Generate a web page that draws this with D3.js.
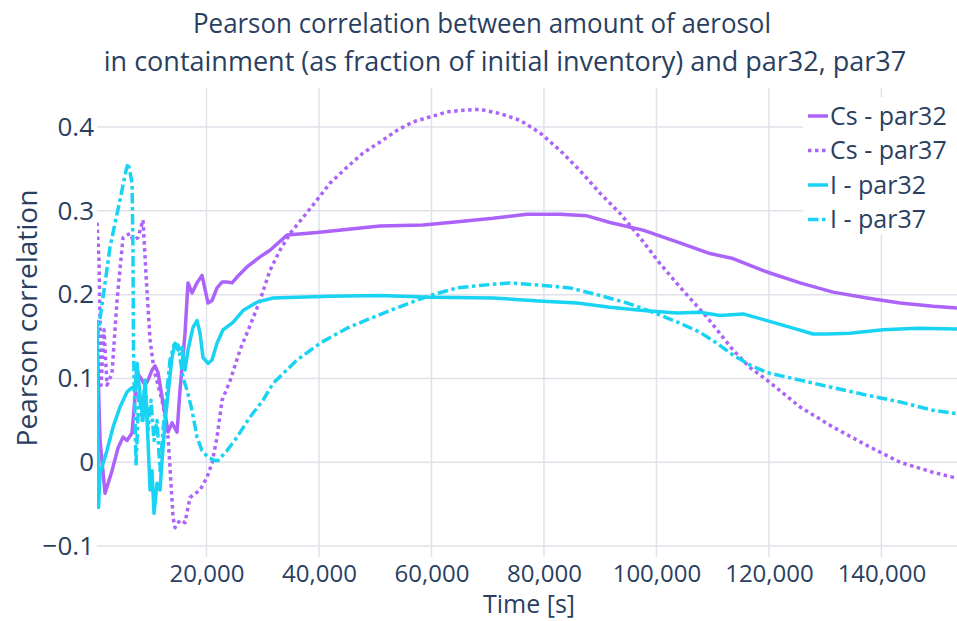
<!DOCTYPE html>
<html>
<head>
<meta charset="utf-8">
<script src="https://cdn.jsdelivr.net/npm/d3@7"></script>
<style>
  body { margin: 0; background: #fff; }
  svg { display: block; font-family: 'Open Sans', sans-serif; }
</style>
</head>
<body>
<svg id="chart" width="957" height="621"></svg>
<script>
// values: [time s, pearson r]
const csPar32 = [
    [530, 0.152], [1070, 0.026], [1960, -0.037], [3200, -0.010], [4270, 0.017], [5160, 0.030],
    [5870, 0.026], [6760, 0.035], [7650, 0.107], [8360, 0.100], [9070, 0.092], [9600, 0.098],
    [10310, 0.110], [10850, 0.115], [11380, 0.107], [12090, 0.078], [12620, 0.058], [13160, 0.036],
    [13870, 0.047], [14760, 0.036], [15290, 0.086], [16180, 0.154], [16710, 0.214], [17420, 0.202],
    [18310, 0.214], [19200, 0.223], [20270, 0.190], [20980, 0.193], [21870, 0.208], [22760, 0.215],
    [23650, 0.215], [24540, 0.214], [25430, 0.221], [27200, 0.233], [29510, 0.245], [31290, 0.253],
    [34320, 0.271], [39650, 0.274], [50850, 0.282], [58500, 0.283], [63300, 0.286], [70940, 0.291],
    [76990, 0.296], [82850, 0.296], [87650, 0.294], [91750, 0.286], [97610, 0.277], [103660, 0.263],
    [109530, 0.249], [113610, 0.243], [119660, 0.227], [125530, 0.214], [131390, 0.203],
    [137440, 0.196], [143310, 0.190], [149170, 0.186], [153440, 0.184]
]

const csPar37 = [
    [530, 0.286], [890, 0.241], [1250, 0.092], [1780, 0.158], [2310, 0.092], [3200, 0.106],
    [4090, 0.193], [5160, 0.268], [6400, 0.273], [6930, 0.265], [7820, 0.268], [8710, 0.289],
    [9250, 0.223], [9960, 0.146], [10670, 0.110], [11380, 0.092], [12090, 0.074], [12620, 0.056],
    [13160, 0.030], [13510, -0.006], [14050, -0.066], [14400, -0.078], [15290, -0.069],
    [16180, -0.072], [17070, -0.042], [18850, -0.033], [20090, -0.018], [20980, -0.001],
    [21870, 0.030], [22760, 0.074], [24180, 0.097], [25960, 0.134], [27740, 0.163], [29510, 0.193],
    [31290, 0.229], [33070, 0.253], [34850, 0.273], [37160, 0.292], [39650, 0.313], [41960, 0.333],
    [44980, 0.352], [47830, 0.369], [50850, 0.382], [53870, 0.396], [56720, 0.406], [59740, 0.412],
    [62760, 0.418], [65610, 0.420], [68630, 0.421], [72190, 0.416], [75740, 0.408], [79300, 0.393],
    [82850, 0.372], [86410, 0.348], [89970, 0.321], [93520, 0.297], [97080, 0.268], [100640, 0.237],
    [104190, 0.209], [108990, 0.173], [110770, 0.158], [113610, 0.134], [116640, 0.113],
    [119660, 0.098], [125530, 0.066], [131390, 0.042], [137440, 0.020], [143310, 0.000],
    [149170, -0.012], [153440, -0.019]
]

const iPar32 = [
    [530, 0.170], [800, -0.054], [1070, -0.013], [2310, 0.014], [3380, 0.042], [4620, 0.066],
    [5870, 0.084], [6760, 0.089], [7290, 0.086], [7650, 0.118], [8180, 0.080], [8710, 0.050],
    [9070, 0.098], [9600, 0.026], [9960, -0.033], [10310, -0.010], [10670, -0.061], [11200, -0.025],
    [11740, -0.033], [12090, 0.002], [12620, 0.047], [13160, 0.082], [13870, 0.125], [14400, 0.142],
    [14940, 0.134], [15650, 0.137], [16180, 0.110], [16710, 0.134], [17600, 0.161], [18310, 0.169],
    [18850, 0.154], [19380, 0.125], [20270, 0.118], [20980, 0.122], [21870, 0.142], [22940, 0.158],
    [24710, 0.167], [26490, 0.181], [28980, 0.191], [31830, 0.196], [36090, 0.197], [41960, 0.198],
    [50850, 0.199], [59740, 0.197], [70940, 0.196], [79830, 0.192], [85880, 0.190], [91750, 0.185],
    [97610, 0.181], [103660, 0.178], [107750, 0.179], [111300, 0.175], [115390, 0.177],
    [119660, 0.169], [124280, 0.160], [127840, 0.153], [130330, 0.153], [134420, 0.154],
    [140290, 0.158], [146330, 0.160], [153440, 0.159]
]

const iPar37 = [
    [530, 0.146], [1780, 0.205], [2850, 0.257], [4620, 0.313], [5690, 0.348], [6050, 0.357],
    [6400, 0.346], [6760, 0.333], [6930, 0.253], [7020, 0.134], [7290, 0.050], [7470, -0.004],
    [8000, 0.086], [8530, 0.050], [9070, 0.098], [9600, 0.038], [10140, 0.074], [10670, 0.026],
    [11200, 0.050], [11740, -0.010], [12270, 0.038], [12980, 0.086], [13510, 0.122], [14220, 0.140],
    [14940, 0.140], [15820, 0.101], [16540, 0.086], [17420, 0.062], [18310, 0.030], [19200, 0.014],
    [20270, 0.006], [21510, 0.002], [22050, 0.002], [23650, 0.014], [25430, 0.030], [27740, 0.054],
    [30050, 0.074], [31830, 0.094], [36090, 0.122], [40180, 0.142], [44980, 0.160], [49610, 0.173],
    [54940, 0.187], [59740, 0.199], [64540, 0.208], [68630, 0.211], [73970, 0.214], [79830, 0.211],
    [84630, 0.208], [89970, 0.199], [94770, 0.190], [99390, 0.179], [104190, 0.166], [107750, 0.155],
    [110770, 0.142], [113610, 0.128], [116640, 0.116], [119660, 0.107], [125530, 0.098],
    [131390, 0.089], [137440, 0.080], [143310, 0.072], [149170, 0.062], [153440, 0.058]
]

const seriesNames = ['Cs - par32', 'Cs - par37', 'I - par32', 'I - par37']
const xTicks = [20000, 40000, 60000, 80000, 100000, 120000, 140000]
const yTicks = [-0.1, 0, 0.1, 0.2, 0.3, 0.4]
const titleLines = [
    'Pearson correlation between amount of aerosol',
    'in containment (as fraction of initial inventory) and par32, par37'
]

const series = [
    { name: seriesNames[0], values: csPar32, color: '#ab63fa', dash: null },
    { name: seriesNames[1], values: csPar37, color: '#ab63fa', dash: '3.5,3.5' },
    { name: seriesNames[2], values: iPar32, color: '#19d3f3', dash: null },
    { name: seriesNames[3], values: iPar37, color: '#19d3f3', dash: '10.5,3.5,3.5,3.5' }
]

const margin = { top: 88, right: 0, bottom: 64, left: 97 }
const width = 957
const height = 621
const textColor = '#2a3f5f'
const gridColor = '#dfe2e9'

const svg = d3.select('#chart')

const x = d3.scaleLinear()
    .domain([530, 153440])
    .range([margin.left, width - margin.right])

const y = d3.scaleLinear()
    .domain([-0.113, 0.4465])
    .range([height - margin.bottom, margin.top])

// grid
const gGrid = svg.append('g').attr('class', 'grid')
gGrid.selectAll('.gx')
    .data(xTicks)
    .join('line')
    .attr('class', 'gx')
    .attr('x1', d => x(d)).attr('x2', d => x(d))
    .attr('y1', margin.top).attr('y2', height - margin.bottom)
    .attr('stroke', gridColor).attr('stroke-width', 1.5)
gGrid.selectAll('.gy')
    .data(yTicks)
    .join('line')
    .attr('class', 'gy')
    .attr('x1', margin.left).attr('x2', width - margin.right)
    .attr('y1', d => y(d)).attr('y2', d => y(d))
    .attr('stroke', gridColor).attr('stroke-width', 1.5)

// axes, labels only (no axis lines in this template)
const xAxis = svg.append('g')
    .attr('transform', `translate(0,${height - margin.bottom})`)
    .call(d3.axisBottom(x).tickValues(xTicks).tickFormat(d3.format(',')).tickSize(0).tickPadding(8))
const yAxis = svg.append('g')
    .attr('transform', `translate(${margin.left},0)`)
    .call(d3.axisLeft(y).tickValues(yTicks).tickFormat(d => d === 0 ? '0' : d3.format('.1f')(d)).tickSize(0).tickPadding(3))

xAxis.select('.domain').remove()
yAxis.select('.domain').remove()
xAxis.selectAll('text')
    .attr('fill', textColor)
    .style('font-size', '24px')
    .style('font-family', "'Open Sans', sans-serif")
yAxis.selectAll('text')
    .attr('fill', textColor)
    .style('font-size', '26px')
    .style('font-family', "'Open Sans', sans-serif")

// lines
const line = d3.line()
    .x(d => x(d[0]))
    .y(d => y(d[1]))

svg.append('clipPath').attr('id', 'plot-clip')
    .append('rect')
    .attr('x', margin.left).attr('y', margin.top)
    .attr('width', width - margin.left - margin.right)
    .attr('height', height - margin.top - margin.bottom)

svg.append('g')
    .attr('clip-path', 'url(#plot-clip)')
    .selectAll('path')
    .data(series)
    .join('path')
    .attr('d', d => line(d.values))
    .attr('fill', 'none')
    .attr('stroke', d => d.color)
    .attr('stroke-width', 3.5)
    .attr('stroke-linejoin', 'round')
    .attr('stroke-dasharray', d => d.dash)

// title, line 1 slightly squeezed like the reference lettering
const titleCenters = [482, 505]
svg.append('g')
    .selectAll('text')
    .data(titleLines)
    .join('text')
    .attr('x', (d, i) => titleCenters[i])
    .attr('y', (d, i) => 33 + i * 38)
    .attr('text-anchor', 'middle')
    .attr('fill', textColor)
    .attr('textLength', (d, i) => i === 0 ? 578 : null)
    .attr('lengthAdjust', 'spacingAndGlyphs')
    .style('font-size', '27px')
    .text(d => d)

// axis titles
svg.append('text')
    .attr('x', 529)
    .attr('y', 613)
    .attr('text-anchor', 'middle')
    .attr('fill', textColor)
    .style('font-size', '25px')
    .text('Time [s]')

svg.append('text')
    .attr('transform', `translate(37,318) rotate(-90)`)
    .attr('text-anchor', 'middle')
    .attr('fill', textColor)
    .style('font-size', '28px')
    .text('Pearson correlation')

// legend
const legend = svg.append('g').attr('class', 'legend')
legend.append('rect')
    .attr('x', 803).attr('y', 97)
    .attr('width', 154).attr('height', 138)
    .attr('fill', '#fff')

const items = legend.selectAll('.item')
    .data(series)
    .join('g')
    .attr('class', 'item')
    .attr('transform', (d, i) => `translate(806,${116 + i * 34.5})`)

items.append('line')
    .attr('x1', 2).attr('x2', 22)
    .attr('y1', 0).attr('y2', 0)
    .attr('stroke', d => d.color)
    .attr('stroke-width', 3.5)
    .attr('stroke-dasharray', d => d.dash)

items.append('text')
    .attr('x', 24)
    .attr('dy', '0.35em')
    .attr('fill', textColor)
    .style('font-size', '25px')
    .text(d => d.name)
</script>
</body>
</html>
